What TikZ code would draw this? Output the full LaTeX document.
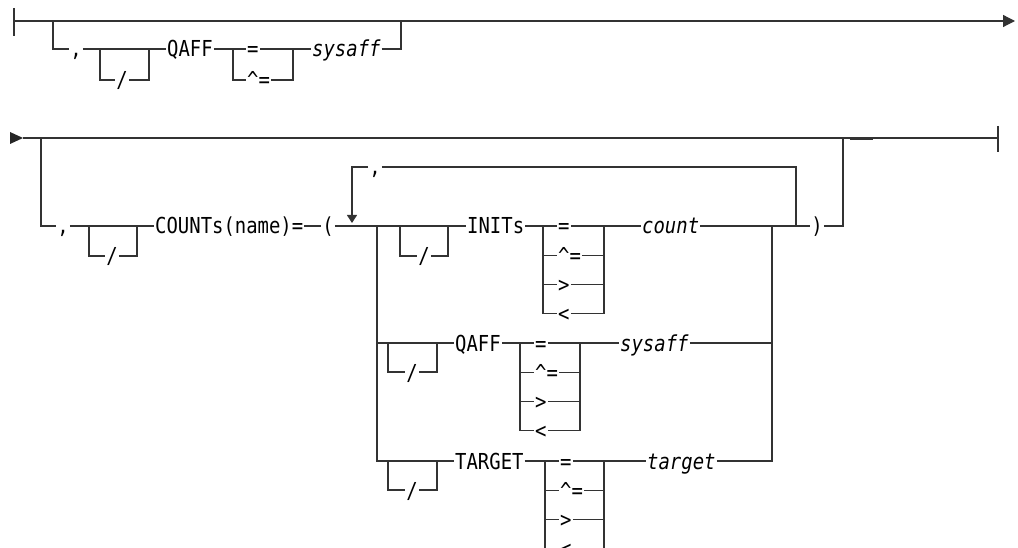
\documentclass[tikz,border=0pt]{standalone}
\usepackage{fontspec}
\newfontfamily\railfont[FakeStretch=0.86]{DejaVu Sans Mono}
\usetikzlibrary{arrows.meta}

\tikzset{
  rail/.style={line width=1.2pt, draw=black!80},
  kw/.style={font=\railfont\fontsize{22}{26}\selectfont, inner sep=1pt,
    text height=21pt, text depth=5pt, text=black},
  var/.style={kw, font=\railfont\itshape\fontsize{22}{26}\selectfont},
}

\begin{document}
\begin{tikzpicture}[x=1pt, y=-1pt]
    \useasboundingbox (0,0) rectangle (1018,548);

    % First part: main line with optional QAFF branch
    \coordinate (start1) at (14,21);
    \coordinate (end1) at (1015,21);
    \draw[rail] (start1) ++(0,-13) -- ++(0,28);
    \draw[line width=1.8pt, black!80] (21,21.5) -- (28,21.5);
    \draw[rail, -{Triangle[length=12pt,width=12pt]}] (start1) -- (end1);

    \coordinate (br1) at (53,21);
    \node[kw] (comma1) at (76,49) {,};
    \node[kw] (slash1) at (122,80) {/};
    \coordinate (box1L) at (100,49);
    \coordinate (box1R) at (149,49);
    \node[kw, anchor=west] (qaff1) at (166,49) {QAFF};
    \draw[rail] (br1) |- (comma1.west);
    \draw[rail] (comma1.east) -- (qaff1.west);
    \draw[rail] (box1L) |- (slash1.west) (slash1.east) -| (box1R);

    % operators = and ^=
    \coordinate (eq1L) at (233,49);
    \coordinate (eq1R) at (293,49);
    \foreach \op [count=\i from 0] in {=,\textasciicircum=} {
      \node[kw, anchor=west] (eq1op\i) at (246,{49+31*\i}) {\op};
      \draw[rail] (eq1L) |- (eq1op\i.west) (eq1op\i.east) -| (eq1R);
    }
    \node[var, anchor=west] (sysaff1) at (311,49) {sysaff};
    \coordinate (jn1) at (401,21);
    \draw[rail] (qaff1.east) -- (eq1L);
    \draw[rail] (eq1R) -- (sysaff1.west);
    \draw[rail] (sysaff1.east) -| (jn1);

    % Second part: continuation line
    \fill[black!85] (10,132) -- (23,138) -- (10,144) -- cycle;
    \coordinate (start2) at (23,138);
    \coordinate (end2) at (998,138);
    \draw[rail] (start2) -- (end2);
    \draw[rail] (end2) ++(0,-12) -- ++(0,26);
    \draw[line width=2pt, black!80] (850,139.5) -- (873,139.5);

    % optional COUNTs branch
    \coordinate (br2) at (41,138);
    \node[kw] (comma2) at (63,226) {,};
    \node[kw] (slash2) at (112,256) {/};
    \coordinate (box2L) at (89,226);
    \coordinate (box2R) at (137,226);
    \node[kw, anchor=west] (counts) at (154,226) {COUNTs(name)=};
    \node[kw] (lparen) at (328,226) {(};
    \draw[rail] (br2) |- (comma2.west);
    \draw[rail] (comma2.east) -- (counts.west);
    \draw[rail] (box2L) |- (slash2.west) (slash2.east) -| (box2R);
    \draw[rail] (counts.east) -- (lparen.west);

    % repeat loop with separator
    \coordinate (loopL) at (352,226);
    \coordinate (loopR) at (796,226);
    \coordinate (grpL) at (377,226);
    \coordinate (grpR) at (772,226);
    \node[kw] (sep) at (375,167) {,};
    \draw[rail] (lparen.east) -- (grpL);
    \draw[rail, -{Triangle[length=8pt,width=10pt]}, shorten >=3pt] (sep.west) -| (loopL);
    \draw[rail] (sep.east) -| (loopR);

    % choice rows: INITs, QAFF, TARGET
    \node[kw] (slash3) at (424,256) {/};
    \coordinate (box3L) at (400,226);
    \coordinate (box3R) at (448,226);
    \node[kw, anchor=west] (inits) at (466,226) {INITs};
    \draw[rail] (grpL) -- (inits.west);
    \draw[rail] (box3L) |- (slash3.west) (slash3.east) -| (box3R);

    \node[kw] (slash4) at (412,372) {/};
    \coordinate (box4L) at (388,343);
    \coordinate (box4R) at (437,343);
    \node[kw, anchor=west] (qaff2) at (454,343) {QAFF};
    \draw[rail] (grpL) |- (qaff2.west);
    \draw[rail] (box4L) |- (slash4.west) (slash4.east) -| (box4R);

    \node[kw] (slash5) at (412,490) {/};
    \coordinate (box5L) at (388,461);
    \coordinate (box5R) at (437,461);
    \node[kw, anchor=west] (target) at (454,461) {TARGET};
    \draw[rail] (grpL) |- (target.west);
    \draw[rail] (box5L) |- (slash5.west) (slash5.east) -| (box5R);

    % operator stacks
    \foreach \r/\y/\l/\rr in {3/226/543/604, 4/343/520/580, 5/461/545/604} {
      \coordinate (opL\r) at (\l,\y);
      \coordinate (opR\r) at (\rr,\y);
      \foreach \op [count=\i from 0] in {=,\textasciicircum=,>,<} {
        \node[kw, anchor=west] (op\r-\i) at ({\l+14},{\y+29.2*\i}) {\op};
        \draw[rail] (opL\r) |- (op\r-\i.west) (op\r-\i.east) -| (opR\r);
      }
    }
    \draw[rail] (inits.east) -- (opL3);
    \draw[rail] (qaff2.east) -- (opL4);
    \draw[rail] (target.east) -- (opL5);

    % values
    \node[var, anchor=west] (count) at (641,226) {count};
    \node[var, anchor=west] (sysaff2) at (619,343) {sysaff};
    \node[var, anchor=west] (targetv) at (646,461) {target};
    \draw[rail] (opR3) -- (count.west);
    \draw[rail] (opR4) -- (sysaff2.west);
    \draw[rail] (opR5) -- (targetv.west);
    \draw[rail] (count.east) -- (grpR);
    \draw[rail] (sysaff2.east) -| (grpR);
    \draw[rail] (targetv.east) -| (grpR);

    % closing parenthesis and return to main line
    \node[kw] (rparen) at (817,226) {)};
    \coordinate (jn2) at (843,138);
    \draw[rail] (grpR) -- (rparen.west);
    \draw[rail] (rparen.east) -| (jn2);
\end{tikzpicture}
\end{document}
